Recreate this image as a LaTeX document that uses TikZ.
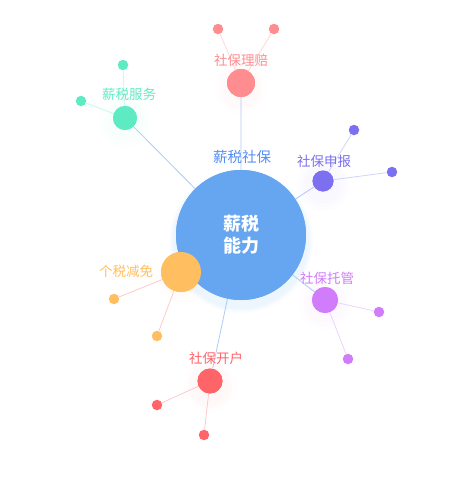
\documentclass[tikz,border=0pt]{standalone}
\usepackage{fontspec}
\setmainfont{Noto Sans CJK SC}
\definecolor{cmain}{HTML}{66A6F0}
\definecolor{clink}{HTML}{AFC9F5}
\definecolor{cpei}{HTML}{FF8C8F}
\definecolor{cfw}{HTML}{5EEBC3}
\definecolor{csb}{HTML}{7C6FF0}
\definecolor{ctg}{HTML}{D17CFB}
\definecolor{cjm}{HTML}{FFBF60}
\definecolor{ckh}{HTML}{FF6468}
\tikzset{
  hub/.style={circle, fill=cmain, minimum size=130pt, inner sep=0pt, text=white, font=\bfseries\fontsize{18}{22}\selectfont, align=center},
  prim/.style={circle, fill=#1, inner sep=0pt},
  leaf/.style={circle, fill=#1, minimum size=10.5pt, inner sep=0pt},
  lab/.style={text=#1, font=\fontsize{13.5}{15}\selectfont, inner sep=0pt},
  mainlink/.style={draw=clink, line width=0.8pt},
  sublink/.style={draw=#1!35, line width=0.8pt}
}
\begin{document}
\begin{tikzpicture}[x=1pt,y=-1pt]
\useasboundingbox (0,0) rectangle (473,490);
% soft glows
\foreach \r/\o in {72/0.03, 70/0.04, 68/0.05}{
  \fill[cmain, opacity=\o] (241,241) circle (\r);
}
\foreach \x/\y/\c in {241/88/cpei, 125/122/cfw, 323/185/csb, 325/304/ctg, 181/278/cjm, 210/386/ckh}{
  \foreach \r in {26,22,18}{
    \fill[\c, opacity=0.015] (\x,\y) circle (\r);
  }
}
% nodes
\node[hub] (hub) at (241,235) {};
\node[prim=cpei, minimum size=28pt] (pei) at (241,83) {};
\node[prim=cfw, minimum size=24pt] (fw) at (125,118) {};
\node[prim=csb, minimum size=21pt] (sb) at (323,181) {};
\node[prim=ctg, minimum size=26pt] (tg) at (325,300) {};
\node[prim=cjm, minimum size=40pt] (jm) at (181,272) {};
\node[prim=ckh, minimum size=25pt] (kh) at (210,381) {};
\node[leaf=cpei] (pei1) at (218,29) {};
\node[leaf=cpei] (pei2) at (274,29) {};
\node[leaf=cfw] (fw1) at (123,65) {};
\node[leaf=cfw] (fw2) at (81,101) {};
\node[leaf=csb] (sb1) at (354,130) {};
\node[leaf=csb] (sb2) at (392,172) {};
\node[leaf=ctg] (tg1) at (379,312) {};
\node[leaf=ctg] (tg2) at (348,359) {};
\node[leaf=cjm] (jm1) at (114,299) {};
\node[leaf=cjm] (jm2) at (157,336) {};
\node[leaf=ckh] (kh1) at (157,405) {};
\node[leaf=ckh] (kh2) at (204,435) {};
% links
\path[mainlink] (hub.center) -- (pei) (hub.center) -- (fw) (hub.center) -- (sb)
  (hub.center) -- (tg) (hub.center) -- (kh);
\path[sublink=cpei] (pei) -- (pei1) (pei) -- (pei2);
\path[sublink=cfw] (fw) -- (fw1) (fw) -- (fw2);
\path[sublink=csb!60!cmain] (sb) -- (sb1) (sb) -- (sb2);
\path[sublink=ctg] (tg) -- (tg1) (tg) -- (tg2);
\path[sublink=ckh] (jm) -- (jm1) (jm) -- (jm2);
\path[sublink=ckh] (kh) -- (kh1) (kh) -- (kh2);
% redraw primary circles on top of links
\node[hub] at (241,235) {薪税\\能力};
\node[prim=cpei, minimum size=28pt] at (241,83) {};
\node[prim=cfw, minimum size=24pt] at (125,118) {};
\node[prim=csb, minimum size=21pt] at (323,181) {};
\node[prim=ctg, minimum size=26pt] at (325,300) {};
\node[prim=cjm, minimum size=40pt] at (181,272) {};
\node[prim=ckh, minimum size=25pt] at (210,381) {};
% labels
\node[lab=cmain!85!blue] (lhub) at (242,157) {\fontsize{14.5}{16}\selectfont 薪税社保};
\node[lab=cpei] (lpei) at (241,60) {社保理赔};
\node[lab=cfw] (lfw) at (129,94) {薪税服务};
\node[lab=csb] (lsb) at (324,161) {社保申报};
\node[lab=ctg] (ltg) at (327,278) {社保托管};
\node[lab=cjm] (ljm) at (126,271) {个税减免};
\node[lab=ckh] (lkh) at (216,358) {社保开户};
\end{tikzpicture}
\end{document}
